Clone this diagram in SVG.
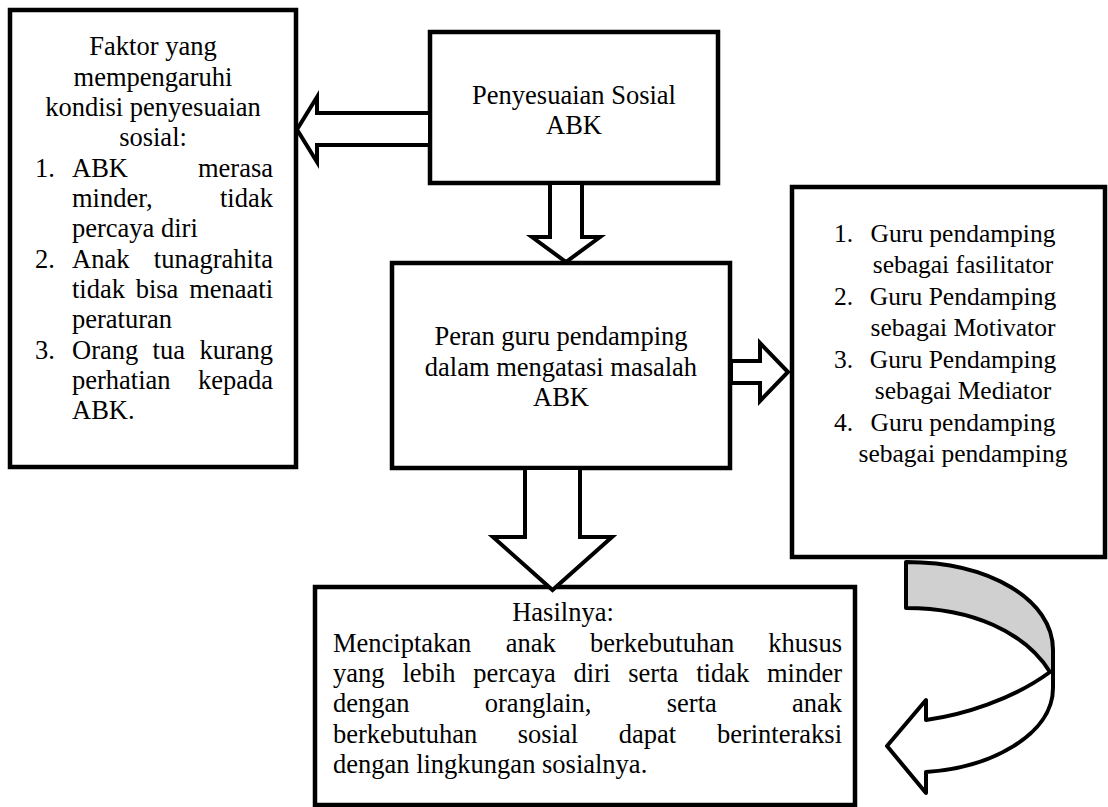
<svg xmlns="http://www.w3.org/2000/svg" width="1108" height="807" viewBox="0 0 1108 807">
<style>
.box{fill:#fff;stroke:#000;stroke-width:4.5;stroke-linejoin:miter}
.arr{fill:#fff;stroke:#000;stroke-width:4;stroke-linejoin:miter}
.t{font-family:"Liberation Serif","Times New Roman",serif;font-size:26.5px;fill:#000}
.c{text-anchor:middle}
.e{text-anchor:end}
.r{font-size:25.5px}
</style>
<rect width="1108" height="807" fill="#fff"/>
<g id="node-faktor">
<rect class="box" x="10" y="10" width="286" height="457"/>
<text class="t c" x="153" y="55">Faktor yang</text>
<text class="t c" x="153" y="85.5">mempengaruhi</text>
<text class="t c" x="153" y="116">kondisi penyesuaian</text>
<text class="t c" x="153" y="146">sosial:</text>
<text class="t" x="35" y="176.5">1.</text>
<text class="t" x="72" y="176.5">ABK</text>
<text class="t e" x="273" y="176.5">merasa</text>
<text class="t" x="72" y="207">minder,</text>
<text class="t e" x="273" y="207">tidak</text>
<text class="t" x="72" y="237">percaya diri</text>
<text class="t" x="35" y="267.5">2.</text>
<text class="t" x="72" y="267.5">Anak</text>
<text class="t e" x="273" y="267.5">tunagrahita</text>
<text class="t" x="72" y="298">tidak</text>
<text class="t" x="135.7" y="298">bisa</text>
<text class="t e" x="273" y="298">menaati</text>
<text class="t" x="72" y="328">peraturan</text>
<text class="t" x="35" y="358.5">3.</text>
<text class="t" x="72" y="358.5">Orang</text>
<text class="t" x="152.6" y="358.5">tua</text>
<text class="t e" x="273" y="358.5">kurang</text>
<text class="t" x="72" y="389">perhatian</text>
<text class="t e" x="273" y="389">kepada</text>
<text class="t" x="72" y="419">ABK.</text>
</g>
<g id="node-penyesuaian">
<rect class="box" x="430" y="32" width="288" height="151"/>
<text class="t c" x="574" y="104">Penyesuaian Sosial</text>
<text class="t c" x="574" y="134">ABK</text>
</g>
<g id="node-peran">
<rect class="box" x="392" y="263" width="338" height="205"/>
<text class="t c" x="561" y="345">Peran guru pendamping</text>
<text class="t c" x="561" y="376">dalam mengatasi masalah</text>
<text class="t c" x="561" y="406">ABK</text>
</g>
<g id="node-guru">
<rect class="box" x="792" y="187" width="313" height="370"/>
<text class="t r" x="834" y="242">1.</text>
<text class="t r c" x="963" y="242">Guru pendamping</text>
<text class="t r c" x="963" y="273">sebagai fasilitator</text>
<text class="t r" x="834" y="305">2.</text>
<text class="t r c" x="963" y="305">Guru Pendamping</text>
<text class="t r c" x="963" y="336">sebagai Motivator</text>
<text class="t r" x="834" y="368">3.</text>
<text class="t r c" x="963" y="368">Guru Pendamping</text>
<text class="t r c" x="963" y="399">sebagai Mediator</text>
<text class="t r" x="834" y="431">4.</text>
<text class="t r c" x="963" y="431">Guru pendamping</text>
<text class="t r c" x="963" y="462">sebagai pendamping</text>
</g>
<g id="node-hasil">
<rect class="box" x="315" y="587" width="540" height="218"/>
<text class="t c" x="563" y="621">Hasilnya:</text>
<text class="t" x="333" y="652">Menciptakan</text>
<text class="t" x="505.7" y="652">anak</text>
<text class="t" x="590" y="652">berkebutuhan</text>
<text class="t e" x="842" y="652">khusus</text>
<text class="t" x="333" y="682">yang</text>
<text class="t" x="402.4" y="682">lebih</text>
<text class="t" x="473.3" y="682">percaya</text>
<text class="t" x="573.6" y="682">diri</text>
<text class="t" x="628.3" y="682">serta</text>
<text class="t" x="696.2" y="682">tidak</text>
<text class="t e" x="842" y="682">minder</text>
<text class="t" x="333" y="712">dengan</text>
<text class="t" x="484.8" y="712">oranglain,</text>
<text class="t" x="666.8" y="712">serta</text>
<text class="t e" x="842" y="712">anak</text>
<text class="t" x="333" y="743">berkebutuhan</text>
<text class="t" x="517.8" y="743">sosial</text>
<text class="t" x="618.8" y="743">dapat</text>
<text class="t e" x="842" y="743">berinteraksi</text>
<text class="t" x="333" y="773">dengan lingkungan sosialnya.</text>
</g>
<g id="connectors">
<polygon class="arr" points="430,113 317,113 317,97 297,129.5 317,162 317,145 430,145"/>
<polygon class="arr" points="550,183 582,183 582,237 600,237 566,262 532,237 550,237"/>
<polygon class="arr" points="731,361 760,361 760,343 788,372 760,401 760,383 731,383"/>
<polygon class="arr" points="525,468 580,468 580,537 612,537 552.5,590 493,537 525,537"/>
<g id="curved-arrow">
<path d="M906,562 C990,562 1053,600 1053,650 L1053,688 C1053,735 990,768 926,772 L926,793 L887,746 L926,700 L926,720 C962,715 1012,700 1050,672 C1025,632 972,608 906,608 Z" fill="#fff" stroke="none"/>
<path d="M906,562 C990,562 1053,600 1053,650 L1053,672 L1050,672 C1025,632 972,608 906,608 Z" fill="#d0d0d0" stroke="none"/>
<path d="M906,562 C990,562 1053,600 1053,650 L1053,688 C1053,735 990,768 926,772 L926,793 L887,746 L926,700 L926,720 C962,715 1012,700 1050,672 C1025,632 972,608 906,608 Z" fill="none" stroke="#000" stroke-width="4" stroke-linejoin="round"/>
</g>
</g>
</svg>
